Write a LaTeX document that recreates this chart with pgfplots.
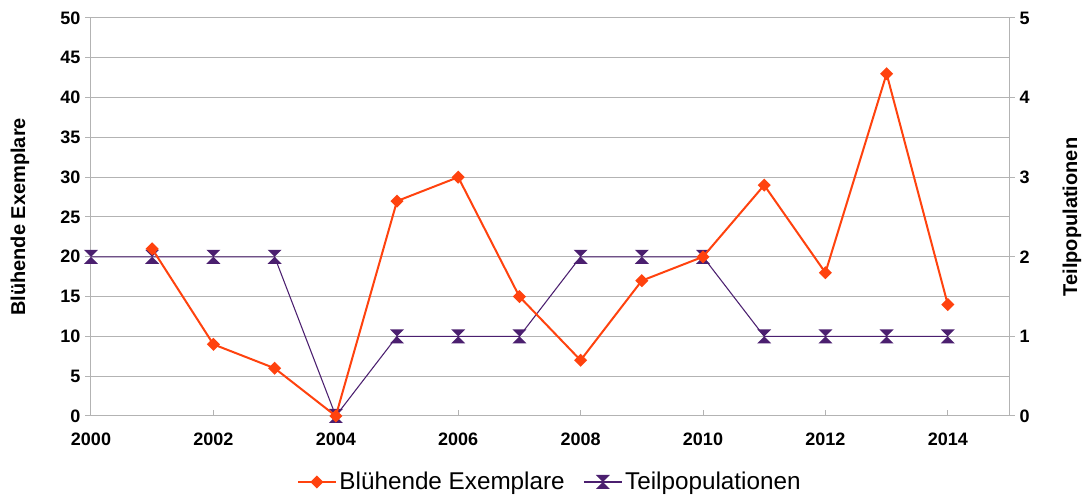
\documentclass[border=0pt]{standalone}
\usepackage{pgfplots}
\pgfplotsset{compat=1.18}
\usepackage{fontspec}
\setmainfont{Liberation Sans}

\definecolor{orangeline}{HTML}{FF420E}
\definecolor{purpleline}{HTML}{4B1F6F}
\definecolor{axisgray}{HTML}{B3B3B3}

% two triangles meeting at their tips
\pgfdeclareplotmark{hourglass}{%
  \pgfpathmoveto{\pgfqpoint{-\pgfplotmarksize}{\pgfplotmarksize}}%
  \pgfpathlineto{\pgfqpoint{\pgfplotmarksize}{\pgfplotmarksize}}%
  \pgfpathlineto{\pgfqpoint{-\pgfplotmarksize}{-\pgfplotmarksize}}%
  \pgfpathlineto{\pgfqpoint{\pgfplotmarksize}{-\pgfplotmarksize}}%
  \pgfpathclose
  \pgfusepathqfill
}
% square standing on a corner
\pgfdeclareplotmark{rhombus}{%
  \pgfpathmoveto{\pgfqpoint{0pt}{\pgfplotmarksize}}%
  \pgfpathlineto{\pgfqpoint{\pgfplotmarksize}{0pt}}%
  \pgfpathlineto{\pgfqpoint{0pt}{-\pgfplotmarksize}}%
  \pgfpathlineto{\pgfqpoint{-\pgfplotmarksize}{0pt}}%
  \pgfpathclose
  \pgfusepathqfill
}

\pgfplotstableread{
year flowering
2001 21
2002 9
2003 6
2004 0
2005 27
2006 30
2007 15
2008 7
2009 17
2010 20
2011 29
2012 18
2013 43
2014 14
}\flowering

\pgfplotstableread{
year parts
2000 2
2001 2
2002 2
2003 2
2004 0
2005 1
2006 1
2007 1
2008 2
2009 2
2010 2
2011 1
2012 1
2013 1
2014 1
}\subpops

\pgfplotsset{
  base/.style={
    width=688.5pt, height=298.5pt, scale only axis,
    at={(0,0)}, anchor=south west,
    xmin=2000, xmax=2015,
    axis line style={axisgray, line width=0.75pt},
    tick style={axisgray, line width=0.75pt},
    major tick length=4.5pt,
    tick align=outside,
    ticklabel style={font=\fontsize{13.5}{16}\selectfont\bfseries},
    label style={font=\fontsize{15}{18}\selectfont\bfseries},
    /pgf/number format/assume math mode=true,
    /pgf/number format/1000 sep={},
  },
  series legend/.style={
    legend image code/.code={%
      \draw[mark repeat=2, mark phase=2, ##1]
        plot coordinates {(0pt,0pt) (14.25pt,0pt) (28.5pt,0pt)};%
    },
  },
}

\begin{document}
\begin{tikzpicture}
\useasboundingbox (-68.25pt,-61.5pt) rectangle (743.25pt,312pt);

% left scale, grid and year axis
\begin{axis}[base,
  ymin=0, ymax=50, ytick={0,5,...,50},
  axis x line*=bottom, axis y line*=left,
  ymajorgrids, grid style={axisgray, line width=0.75pt},
  xtick={2000,2002,...,2014},
  xtick style={yshift=4.5pt},
  xticklabel style={yshift=-5pt},
  ylabel={Blühende Exemplare},
  ylabel style={at={(axis description cs:0,0.5)}, yshift=53.25pt, anchor=center},
]
\end{axis}

% right scale with the number of subpopulations
\begin{axis}[base,
  ymin=0, ymax=5, ytick={0,1,...,5},
  axis x line=none, axis y line*=right,
  ylabel={Teilpopulationen},
  ylabel style={at={(axis description cs:1,0.5)}, yshift=-47.25pt, anchor=center},
]
\addplot[purpleline, line width=0.8pt, mark=hourglass, mark size=5.25pt]
  table[x=year, y=parts] {\subpops};
\end{axis}

% flowering plants, drawn on top, with the legend for both series
\begin{axis}[base, series legend,
  ymin=0, ymax=50,
  axis x line=none, axis y line=none,
  legend columns=2,
  legend style={draw=none, fill=none,
    at={(axis description cs:0.5,0)}, yshift=-49.5pt, anchor=center,
    font=\fontsize{18.2}{21}\selectfont,
    /tikz/every even column/.append style={column sep=12pt},
    inner sep=0pt},
]
\addplot[orangeline, line width=1.5pt, mark=rhombus, mark size=4.9pt]
  table[x=year, y=flowering] {\flowering};
\addlegendentry{Blühende Exemplare}
\addlegendimage{purpleline, line width=0.8pt, mark=hourglass, mark size=5.25pt}
\addlegendentry{Teilpopulationen}
\end{axis}
\end{tikzpicture}
\end{document}
